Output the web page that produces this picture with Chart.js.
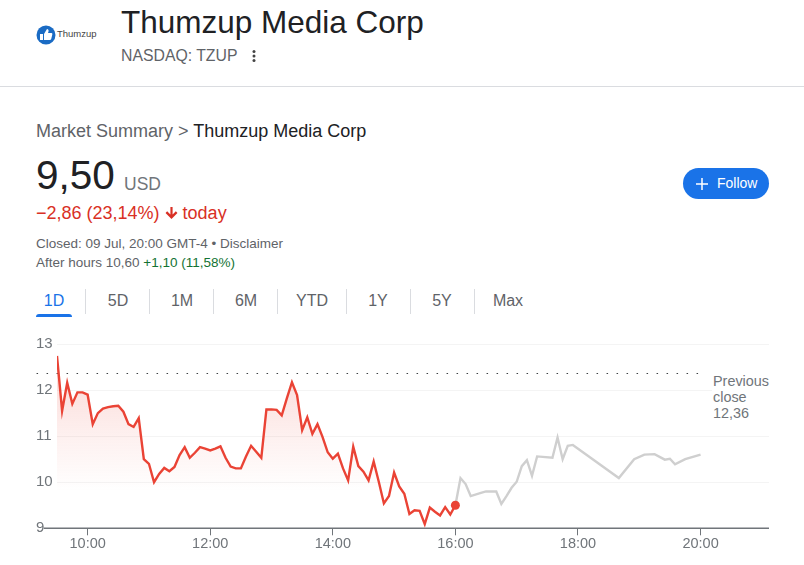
<!DOCTYPE html>
<html>
<head>
<meta charset="utf-8">
<title>Thumzup Media Corp</title>
<script src="https://cdn.jsdelivr.net/npm/chart.js@4"></script>
<style>
    html, body { margin: 0; padding: 0; background: #fff; }
    body { width: 804px; height: 565px; position: relative; overflow: hidden; font-family: "Liberation Sans", Arial, sans-serif; color: #202124; }
    .t { position: absolute; white-space: nowrap; }
    .sep { position: absolute; width: 1px; top: 289px; height: 25px; background: #dadce0; }
    #chartBox { position: absolute; left: 0; top: 330px; width: 804px; height: 235px; }
</style>
</head>
<body>
<svg class="t" style="left:36px;top:25px" width="20" height="20" viewBox="0 0 20 20">
    <circle cx="10" cy="10" r="9.5" fill="#1a6bc4"/>
    <path d="M4 9h3v6H4z M8 9l3-5c1 0 2 1 1.500 2.500L12 8h3.500c1 0 1 1 .7 2l-1 4c-.2.700-.7 1-1.500 1H8z" fill="#fff"/>
</svg>
<div class="t" style="left:57px;top:28px;font-size:9.500px;line-height:12px;color:#444">Thumzup</div>
<div class="t" style="left:121px;top:4px;font-size:31.500px;line-height:36px">Thumzup Media Corp</div>
<div class="t" style="left:121px;top:46px;font-size:15.800px;line-height:20px;color:#5f6368">NASDAQ: TZUP</div>
<svg class="t" style="left:251px;top:49px" width="6" height="14"><circle cx="3" cy="2.500" r="1.500" fill="#444"/><circle cx="3" cy="7" r="1.500" fill="#444"/><circle cx="3" cy="11.500" r="1.500" fill="#444"/></svg>
<div class="t" style="left:0;top:86px;width:804px;height:1px;background:#dadce0"></div>

<div class="t" style="left:36px;top:121px;font-size:18px;line-height:20px;color:#5f6368">Market Summary &gt; <span style="color:#202124">Thumzup Media Corp</span></div>
<div class="t" style="left:36px;top:150px;font-size:40.500px;line-height:50px">9,50</div>
<div class="t" style="left:124px;top:174px;font-size:17.500px;line-height:20px;color:#70757a">USD</div>
<div class="t" style="left:36px;top:203px;font-size:18px;line-height:20px;color:#d93025">−2,86 (23,14%) <svg width="13" height="13" viewBox="0 0 12 12" style="vertical-align:-1px"><path d="M5 0h2v7l3-3 1.500 1.500L6 11 .5 5.500 2 4l3 3z" fill="#d93025"/></svg> today</div>
<div class="t" style="left:36px;top:236px;font-size:13.500px;line-height:16px;color:#5f6368">Closed: 09 Jul, 20:00 GMT-4 • Disclaimer</div>
<div class="t" style="left:36px;top:255px;font-size:13.500px;line-height:16px;color:#5f6368">After hours 10,60 <span style="color:#137333">+1,10 (11,58%)</span></div>

<button class="t" style="left:683px;top:168px;width:86px;height:31px;border:0;border-radius:16px;background:#1a73e8;padding:0"></button>
<svg class="t" style="left:696px;top:178px" width="12" height="12"><path d="M5.250 0h1.500v5.250H12v1.500H6.750V12h-1.500V6.750H0v-1.500h5.250z" fill="#fff"/></svg>
<div class="t" style="left:717px;top:175px;font-size:14px;line-height:17px;color:#fff">Follow</div>

<div id="tabs"></div>
<div class="t" style="left:36px;top:314px;width:36px;height:3px;background:#1a73e8;border-radius:3px 3px 0 0"></div>

<div id="chartBox"><canvas id="priceChart" width="804" height="235"></canvas></div>
<div class="t" style="left:712px;top:373px;width:60px;padding-left:1px;font-size:14.400px;line-height:16px;color:#70757a;background:#fff">Previous<br>close<br>12,36</div>

<script>
var tabNames   = ["1D", "5D", "1M", "6M", "YTD", "1Y", "5Y", "Max"];
var tabCenters = [54, 118, 182, 246, 312, 378, 442, 508];
var tabSeps    = [85, 149, 213, 277, 346, 410, 474];

var marketTimes = [
    "09:30", "09:35", "09:40", "09:45", "09:50", "09:55", "10:00", "10:05", "10:10", "10:15", "10:20", "10:25",
    "10:30", "10:35", "10:40", "10:45", "10:50", "10:55", "11:00", "11:05", "11:10", "11:15", "11:20", "11:25",
    "11:30", "11:35", "11:40", "11:45", "11:50", "11:55", "12:00", "12:05", "12:10", "12:15", "12:20", "12:25",
    "12:30", "12:35", "12:40", "12:45", "12:50", "12:55", "13:00", "13:05", "13:10", "13:15", "13:20", "13:25",
    "13:30", "13:35", "13:40", "13:45", "13:50", "13:55", "14:00", "14:05", "14:10", "14:15", "14:20", "14:25",
    "14:30", "14:35", "14:40", "14:45", "14:50", "14:55", "15:00", "15:05", "15:10", "15:15", "15:20", "15:25",
    "15:30", "15:35", "15:40", "15:45", "15:50", "15:55", "16:00"
];
var marketPrices = [
    12.74, 11.55, 12.16, 11.70, 11.95, 11.95, 11.90, 11.26, 11.50, 11.60, 11.63, 11.65,
    11.66, 11.53, 11.26, 11.20, 11.39, 10.50, 10.40, 10.00, 10.18, 10.31, 10.24, 10.33,
    10.59, 10.76, 10.53, 10.64, 10.76, 10.73, 10.69, 10.73, 10.78, 10.53, 10.34, 10.30,
    10.30, 10.56, 10.79, 10.66, 10.53, 11.58, 11.58, 11.57, 11.45, 11.82, 12.17, 11.89,
    11.13, 11.41, 11.05, 11.26, 10.98, 10.65, 10.51, 10.62, 10.30, 10.04, 10.77, 10.35,
    10.23, 10.04, 10.45, 10.01, 9.54, 9.70, 10.21, 9.91, 9.75, 9.31, 9.39, 9.38,
    9.09, 9.45, 9.36, 9.28, 9.46, 9.30, 9.50
];

var afterTimes = [
    "16:00", "16:05", "16:10", "16:15", "16:25", "16:30", "16:40", "16:45", "16:50", "16:55", "17:00", "17:05",
    "17:10", "17:15", "17:20", "17:35", "17:40", "17:45", "17:50", "17:55", "18:40", "18:55", "19:05", "19:15",
    "19:25", "19:30", "19:35", "19:45", "20:00"
];
var afterPrices = [
    9.50, 10.09, 9.96, 9.70, 9.77, 9.80, 9.80, 9.53, 9.70, 9.88, 10.01, 10.35,
    10.48, 10.14, 10.56, 10.53, 10.97, 10.50, 10.79, 10.81, 10.09, 10.50, 10.60, 10.61,
    10.49, 10.51, 10.39, 10.50, 10.60
];

var prevClose      = 12.36;
var prevCloseTimes = ["09:10", "20:05"];
var baselineTimes  = ["09:17", "21:07"];
var xTickLabels    = ["10:00", "12:00", "14:00", "16:00", "18:00", "20:00"];
var yTickValues    = [9, 10, 11, 12, 13];

function toMinutes(label)
{
    var parts = label.split(":");
    return parseInt(parts[0]) * 60 + parseInt(parts[1]);
}

function padDigits(number)
{
    return (number < 10 ? "0" : "") + number;
}

function toPoints(times, values)
{
    return times.map(function (time, index)
    {
        return {x: toMinutes(time), y: values[index]};
    });
}

tabNames.forEach(function (name, index)
{
    var tab = document.createElement("div");
    tab.className = "t";
    tab.style.cssText = "left:" + (tabCenters[index] - 30) + "px;top:292px;width:60px;text-align:center;font-size:16px;line-height:18px;color:" + (index === 0 ? "#1a73e8" : "#5f6368");
    tab.textContent = name;
    document.getElementById("tabs").appendChild(tab);
});

tabSeps.forEach(function (left)
{
    var sep = document.createElement("div");
    sep.className = "sep";
    sep.style.left = left + "px";
    document.getElementById("tabs").appendChild(sep);
});

function fadeFill(context)
{
    var chart = context.chart;
    if (!chart.chartArea)
    {
        return "rgba(234,67,53,0.15)";
    }
    var y    = chart.scales.y;
    var fade = chart.ctx.createLinearGradient(0, y.getPixelForValue(12.8), 0, y.getPixelForValue(9.8));
    fade.addColorStop(0, "rgba(234,67,53,0.22)");
    fade.addColorStop(0.6, "rgba(234,67,53,0.08)");
    fade.addColorStop(1, "rgba(234,67,53,0)");
    return fade;
}

var lastIndex = marketPrices.length - 1;

new Chart(document.getElementById("priceChart"), {
    type:    "line",
    data:    {
        datasets: [
            {
                data:            toPoints(marketTimes, marketPrices),
                borderColor:     "#ea4335",
                borderWidth:     2.4,
                backgroundColor: fadeFill,
                fill:            "origin",
                tension:         0,
                pointRadius:     function (ctx) { return ctx.dataIndex === lastIndex ? 4.5 : 0; },
                pointBackgroundColor: "#ea4335",
                pointBorderWidth: 0
            },
            {
                data:        toPoints(afterTimes, afterPrices),
                borderColor: "#cfcfcf",
                borderWidth: 2.4,
                fill:        false,
                tension:     0,
                pointRadius: 0
            },
            {
                data:        toPoints(prevCloseTimes, [prevClose, prevClose]),
                borderColor: "#3c4043",
                borderWidth: 1.2,
                borderDash:  [1.5, 8.5],
                fill:        false,
                pointRadius: 0,
                clip:        false
            },
            {
                data:        toPoints(baselineTimes, [yTickValues[0], yTickValues[0]]),
                borderColor: "#70757a",
                borderWidth: 1.5,
                fill:        false,
                pointRadius: 0,
                clip:        false
            }
        ]
    },
    options: {
        responsive: false,
        animation:  false,
        layout:     {padding: {top: 14, right: 35, left: 36, bottom: 0}},
        events:     [],
        plugins:    {legend: {display: false}, tooltip: {enabled: false}},
        scales:     {
            x: {
                type:   "linear",
                min:    toMinutes("09:30"),
                max:    toMinutes("21:07"),
                border: {display: false},
                grid:   {drawOnChartArea: false, color: "#70757a", tickLength: 7, lineWidth: 1},
                ticks:  {
                    color:       "#70757a",
                    font:        {family: "'Liberation Sans', Arial, sans-serif", size: 14.5},
                    padding:     0,
                    maxRotation: 0,
                    callback:    function (value)
                    {
                        return padDigits(Math.floor(value / 60)) + ":" + padDigits(value % 60);
                    }
                },
                afterBuildTicks: function (scale)
                {
                    scale.ticks = xTickLabels.map(function (label)
                    {
                        return {value: toMinutes(label)};
                    });
                },
                afterFit: function (scale)
                {
                    scale.height = 36.7;
                }
            },
            y: {
                min:    yTickValues[0],
                max:    yTickValues[yTickValues.length - 1],
                border: {display: false},
                grid:   {color: "#f4f4f4", drawTicks: false, lineWidth: 1},
                ticks:  {
                    color:      "#70757a",
                    font:       {family: "'Liberation Sans', Arial, sans-serif", size: 15},
                    padding:    5,
                    crossAlign: "far",
                    stepSize:   1
                },
                afterFit: function (scale)
                {
                    scale.width = 21;
                }
            }
        }
    }
});
</script>
</body>
</html>
